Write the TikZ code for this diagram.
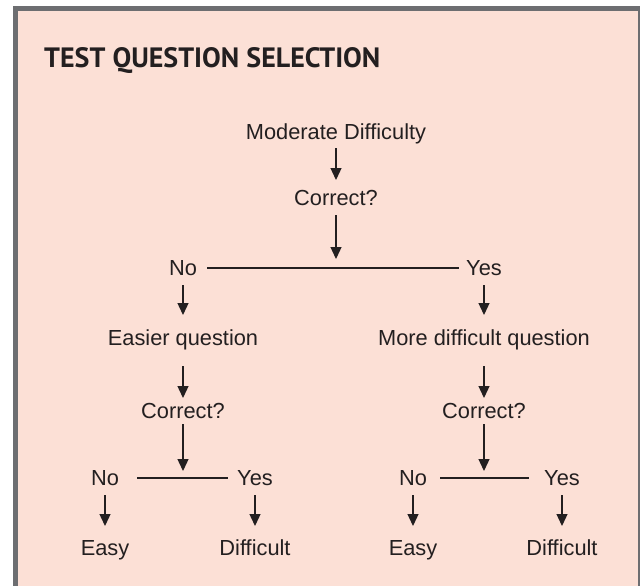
\documentclass[tikz,border=0pt]{standalone}
\usepackage{fontspec}
\setmainfont{Liberation Sans}
\newfontfamily\titlefont{PT Sans}
\usetikzlibrary{arrows.meta}
\definecolor{panel}{HTML}{FCE0D6}
\definecolor{frame}{HTML}{6D6E71}
\definecolor{ink}{HTML}{231F20}
\begin{document}
\begin{tikzpicture}[x=1pt,y=-1pt,
  lbl/.style={inner sep=0pt, text height=15.6pt, text depth=0pt, font=\fontsize{21.8}{24}\selectfont, text=ink, anchor=south},
  arr/.style={draw=ink, line width=1.3pt, -{Triangle[width=11pt,length=12pt]}},
  ln/.style={draw=ink, line width=1.3pt}]
\useasboundingbox (0,0) rectangle (640,586);
\fill[white] (0,0) rectangle (640,586);
\fill[frame] (12.7,6) rectangle (640,586);
\fill[panel] (18,11) rectangle (638,586);
\node[anchor=base west, inner sep=0pt, font=\titlefont\bfseries\fontsize{28}{30}\selectfont, text=ink] (title) at (44,67) {TEST QUESTION SELECTION};
% nodes
\node[lbl] (md) at (336,140) {Moderate Difficulty};
\node[lbl] (c1) at (336,206) {Correct?};
\node[lbl] (no1) at (183,276) {No};
\node[lbl] (yes1) at (484,276) {Yes};
\node[lbl] (eq) at (183,346) {Easier question};
\node[lbl] (mq) at (484,346) {More difficult question};
\node[lbl] (c2) at (183,419) {Correct?};
\node[lbl] (c3) at (484,419) {Correct?};
\node[lbl] (no2) at (105,486) {No};
\node[lbl] (yes2) at (255,486) {Yes};
\node[lbl] (no3) at (413,486) {No};
\node[lbl] (yes3) at (562,486) {Yes};
\node[lbl] (e1) at (105,556) {Easy};
\node[lbl] (d1) at (255,556) {Difficult};
\node[lbl] (e2) at (413,556) {Easy};
\node[lbl] (d2) at (562,556) {Difficult};
\coordinate (j1) at (336,269);
\coordinate (j2) at (183,479);
\coordinate (j3) at (484,479);
% branch lines
\draw[ln, shorten <=10pt, shorten >=7pt] (no1.east) -- (yes1.west);
\draw[ln, shorten <=18pt, shorten >=9.4pt] (no2.east) -- (yes2.west);
\draw[ln, shorten <=13pt, shorten >=15.4pt] (no3.east) -- (yes3.west);
% arrows
\draw[arr, shorten <=8pt, shorten >=10pt] (md.south) -- (c1.north);
\draw[arr, shorten <=9pt, shorten >=10pt] (c1.south) -- (j1);
\draw[arr, shorten <=9pt, shorten >=15pt] (no1.south) -- (eq.north);
\draw[arr, shorten <=9pt, shorten >=15pt] (yes1.south) -- (mq.north);
\draw[arr, shorten <=20pt, shorten >=5pt] (eq.south) -- (c2.north);
\draw[arr, shorten <=20pt, shorten >=5pt] (mq.south) -- (c3.north);
\draw[arr, shorten <=5pt, shorten >=8pt] (c2.south) -- (j2);
\draw[arr, shorten <=5pt, shorten >=8pt] (c3.south) -- (j3);
\draw[arr, shorten <=9pt, shorten >=14pt] (no2.south) -- (e1.north);
\draw[arr, shorten <=9pt, shorten >=14pt] (yes2.south) -- (d1.north);
\draw[arr, shorten <=9pt, shorten >=14pt] (no3.south) -- (e2.north);
\draw[arr, shorten <=9pt, shorten >=14pt] (yes3.south) -- (d2.north);
\end{tikzpicture}
\end{document}
